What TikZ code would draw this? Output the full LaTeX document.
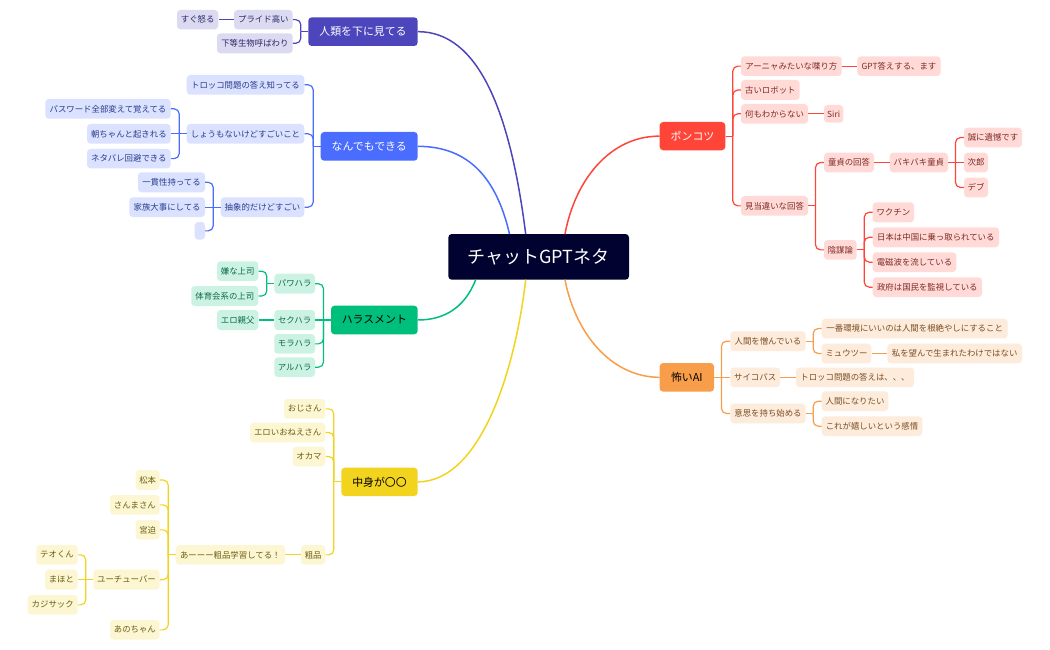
\documentclass[tikz,border=0pt]{standalone}
\usepackage{fontspec}
\setmainfont{Noto Sans CJK JP}
\definecolor{cInd}{HTML}{4C45BB}\definecolor{lInd}{HTML}{DBDAF1}\definecolor{tInd}{HTML}{2A2667}
\definecolor{cBlu}{HTML}{4A6CFF}\definecolor{lBlu}{HTML}{DBE2FF}\definecolor{tBlu}{HTML}{283B8C}
\definecolor{cRed}{HTML}{FF4438}\definecolor{lRed}{HTML}{FFDAD7}\definecolor{tRed}{HTML}{7F2A24}
\definecolor{cOra}{HTML}{F89D4A}\definecolor{lOra}{HTML}{FDEBDB}\definecolor{tOra}{HTML}{7A4E24}
\definecolor{cGrn}{HTML}{00BF7A}\definecolor{lGrn}{HTML}{CCF2E4}\definecolor{tGrn}{HTML}{0B6B48}
\definecolor{cYel}{HTML}{F2D31E}\definecolor{lYel}{HTML}{FCF6D2}\definecolor{tYel}{HTML}{6B5D10}
\definecolor{cHub}{HTML}{020230}
\tikzset{
  box/.style={inner sep=0pt,rounded corners=3.5pt,draw=none},
  leaf/.style n args={2}{box,fill=#1,text=#2,font=\fontsize{8.4}{10}\selectfont},
  mainbox/.style n args={2}{box,fill=#1,text=#2,font=\fontsize{10.9}{13}\selectfont},
  hubbox/.style={box,fill=cHub,text=white,font=\fontsize{18}{22}\selectfont},
  link/.style={draw=#1,line width=1.2pt},
  bigl/.style={draw=#1,line width=1.5pt},
}
% name, style, x0, y0, x1, y1, text
\newcommand\bx[7]{\node[#2,minimum width={(#5-#3)*1pt},minimum height={(#6-#4)*1pt}] (#1) at ({(#3+#5)/2},{(#4+#6)/2}) {#7};}
\newcommand\forkL[3]{\draw[link=#1] (#2.west) -- ++(-7.3,0); \draw[link=#1,rounded corners=5pt] (#2.west) ++(-7.3,0) |- (#3.east);}
\newcommand\forkR[3]{\draw[link=#1] (#2.east) -- ++(7.3,0); \draw[link=#1,rounded corners=5pt] (#2.east) ++(7.3,0) |- (#3.west);}
\newcommand\lineL[3]{\draw[link=#1] (#2.west) -- (#3.east);}
\newcommand\lineR[3]{\draw[link=#1] (#2.east) -- (#3.west);}
\begin{document}
\begin{tikzpicture}[x=1pt,y=-1pt]
\useasboundingbox (0,0) rectangle (1050,650);
% hub
\bx{hub}{hubbox}{448.3}{234}{629}{279.7}{チャットGPTネタ}
\coordinate (hubA) at (525.7,234);
\coordinate (hubB) at (509.5,234);
\coordinate (hubC) at (475.7,279.7);
\coordinate (hubD) at (525.7,279.7);
\coordinate (hubE) at (565,234);
\coordinate (hubF) at (565,279.7);
% indigo
\bx{a}{mainbox={cInd}{white}}{308.3}{17.3}{417.7}{46}{人類を下に見てる}
\bx{a1}{leaf={lInd}{tInd}}{234}{10}{292.7}{29.3}{プライド高い}
\bx{a11}{leaf={lInd}{tInd}}{177}{10}{218.3}{29.3}{すぐ怒る}
\bx{a2}{leaf={lInd}{tInd}}{217}{33.3}{292.7}{53.3}{下等生物呼ばわり}
\forkL{cInd}{a}{a1}\forkL{cInd}{a}{a2}\lineL{cInd}{a1}{a11}
% blue
\bx{b}{mainbox={cBlu}{white}}{320.7}{132}{417.7}{160.7}{なんでもできる}
\bx{b1}{leaf={lBlu}{tBlu}}{186.7}{75}{304.3}{94.7}{トロッコ問題の答え知ってる}
\bx{b2}{leaf={lBlu}{tBlu}}{186.7}{124}{304.3}{143.7}{しょうもないけどすごいこと}
\bx{b21}{leaf={lBlu}{tBlu}}{45.3}{99}{170.7}{118.7}{パスワード全部変えて覚えてる}
\bx{b22}{leaf={lBlu}{tBlu}}{87}{124}{170.7}{143.7}{朝ちゃんと起きれる}
\bx{b23}{leaf={lBlu}{tBlu}}{87}{149}{170.7}{168.3}{ネタバレ回避できる}
\bx{b3}{leaf={lBlu}{tBlu}}{220.7}{197.3}{304.3}{217}{抽象的だけどすごい}
\bx{b31}{leaf={lBlu}{tBlu}}{138}{172.3}{205}{192.3}{一貫性持ってる}
\bx{b32}{leaf={lBlu}{tBlu}}{129.3}{197.3}{205}{217}{家族大事にしてる}
\bx{b33}{leaf={lBlu}{tBlu}}{194.7}{222}{205}{239.7}{}
\forkL{cBlu}{b}{b1}\forkL{cBlu}{b}{b2}\forkL{cBlu}{b}{b3}
\forkL{cBlu}{b2}{b21}\lineL{cBlu}{b2}{b22}\forkL{cBlu}{b2}{b23}
\forkL{cBlu}{b3}{b31}\lineL{cBlu}{b3}{b32}\forkL{cBlu}{b3}{b33}
% green
\bx{c}{mainbox={cGrn}{black}}{331}{305.7}{417.7}{334.3}{ハラスメント}
\bx{c1}{leaf={lGrn}{tGrn}}{274.3}{273.7}{315}{293.7}{パワハラ}
\bx{c11}{leaf={lGrn}{tGrn}}{217}{261.3}{258.3}{281}{嫌な上司}
\bx{c12}{leaf={lGrn}{tGrn}}{191.3}{286}{258.3}{306}{体育会系の上司}
\bx{c2}{leaf={lGrn}{tGrn}}{274.3}{310}{315}{330}{セクハラ}
\bx{c21}{leaf={lGrn}{tGrn}}{217}{310}{258.3}{330}{エロ親父}
\bx{c3}{leaf={lGrn}{tGrn}}{274.3}{334}{315}{353.7}{モラハラ}
\bx{c4}{leaf={lGrn}{tGrn}}{274.3}{357.3}{315}{377}{アルハラ}
\forkL{cGrn}{c}{c1}\lineL{cGrn}{c}{c2}\forkL{cGrn}{c}{c3}\forkL{cGrn}{c}{c4}
\forkL{cGrn}{c1}{c11}\forkL{cGrn}{c1}{c12}\lineL{cGrn}{c2}{c21}
% yellow
\bx{d}{mainbox={cYel}{black}}{341.3}{467.7}{417.7}{496}{中身が〇〇}
\bx{d1}{leaf={lYel}{tYel}}{284}{399}{325.3}{418.7}{おじさん}
\bx{d2}{leaf={lYel}{tYel}}{250}{422.7}{325.3}{442.3}{エロいおねえさん}
\bx{d3}{leaf={lYel}{tYel}}{292.7}{446.7}{325.3}{466.3}{オカマ}
\bx{d4}{leaf={lYel}{tYel}}{301}{545}{325.3}{564.7}{粗品}
\bx{d41}{leaf={lYel}{tYel}}{175.7}{545}{285}{564.7}{あーーー粗品学習してる！}
\bx{e1}{leaf={lYel}{tYel}}{135.7}{470}{159.7}{490}{松本}
\bx{e2}{leaf={lYel}{tYel}}{110}{495}{159.7}{514.7}{さんまさん}
\bx{e3}{leaf={lYel}{tYel}}{135.7}{520}{159.7}{539.7}{宮迫}
\bx{e4}{leaf={lYel}{tYel}}{93.3}{569.7}{159.7}{589.7}{ユーチューバー}
\bx{e5}{leaf={lYel}{tYel}}{110}{620}{159.7}{639.7}{あのちゃん}
\bx{f1}{leaf={lYel}{tYel}}{36.3}{545}{77.7}{564.7}{テオくん}
\bx{f2}{leaf={lYel}{tYel}}{45}{569.7}{77.7}{589.7}{まほと}
\bx{f3}{leaf={lYel}{tYel}}{27.7}{595}{77.7}{614.7}{カジサック}
\forkL{cYel}{d}{d1}\forkL{cYel}{d}{d2}\forkL{cYel}{d}{d3}\forkL{cYel}{d}{d4}
\lineL{cYel}{d4}{d41}
\forkL{cYel}{d41}{e1}\forkL{cYel}{d41}{e2}\forkL{cYel}{d41}{e3}\forkL{cYel}{d41}{e4}\forkL{cYel}{d41}{e5}
\forkL{cYel}{e4}{f1}\lineL{cYel}{e4}{f2}\forkL{cYel}{e4}{f3}
% red
\bx{p}{mainbox={cRed}{white}}{659.7}{122}{725.3}{150.3}{ポンコツ}
\bx{p1}{leaf={lRed}{tRed}}{741}{56.3}{841.7}{76}{アーニャみたいな喋り方}
\bx{p11}{leaf={lRed}{tRed}}{857.3}{56.3}{940.7}{76}{GPT答えする、ます}
\bx{p2}{leaf={lRed}{tRed}}{741}{80}{799.7}{100}{古いロボット}
\bx{p3}{leaf={lRed}{tRed}}{741}{104}{808}{123.7}{何もわからない}
\bx{p31}{leaf={lRed}{tRed}}{824}{105}{843.3}{122.7}{Siri}
\bx{p4}{leaf={lRed}{tRed}}{741}{196}{808}{215.7}{見当違いな回答}
\bx{q1}{leaf={lRed}{tRed}}{824}{152.7}{874}{172.3}{童貞の回答}
\bx{q11}{leaf={lRed}{tRed}}{889.7}{152.7}{948}{172.3}{バキバキ童貞}
\bx{q111}{leaf={lRed}{tRed}}{964}{127.7}{1022}{147.3}{誠に遺憾です}
\bx{q112}{leaf={lRed}{tRed}}{964}{152.7}{988}{172.3}{次郎}
\bx{q113}{leaf={lRed}{tRed}}{964}{177.7}{988}{197.3}{デブ}
\bx{q2}{leaf={lRed}{tRed}}{824}{240}{856.7}{259.7}{陰謀論}
\bx{q21}{leaf={lRed}{tRed}}{872.7}{202.3}{914}{222.3}{ワクチン}
\bx{q22}{leaf={lRed}{tRed}}{872.7}{227.3}{999}{247.3}{日本は中国に乗っ取られている}
\bx{q23}{leaf={lRed}{tRed}}{872.7}{252.3}{956.3}{272}{電磁波を流している}
\bx{q24}{leaf={lRed}{tRed}}{872.7}{277.3}{982}{297}{政府は国民を監視している}
\forkR{cRed}{p}{p1}\forkR{cRed}{p}{p2}\forkR{cRed}{p}{p3}\forkR{cRed}{p}{p4}
\lineR{cRed}{p1}{p11}\lineR{cRed}{p3}{p31}
\forkR{cRed}{p4}{q1}\forkR{cRed}{p4}{q2}\lineR{cRed}{q1}{q11}
\forkR{cRed}{q11}{q111}\lineR{cRed}{q11}{q112}\forkR{cRed}{q11}{q113}
\forkR{cRed}{q2}{q21}\forkR{cRed}{q2}{q22}\forkR{cRed}{q2}{q23}\forkR{cRed}{q2}{q24}
% orange
\bx{r}{mainbox={cOra}{black}}{659.7}{363}{714}{391.7}{怖いAI}
\bx{r1}{leaf={lOra}{tOra}}{730.3}{331.3}{805.7}{351}{人間を憎んでいる}
\bx{r11}{leaf={lOra}{tOra}}{821.7}{318.7}{1007.7}{338.3}{一番環境にいいのは人間を根絶やしにすること}
\bx{r12}{leaf={lOra}{tOra}}{821.7}{343.7}{871.3}{363.3}{ミュウツー}
\bx{r121}{leaf={lOra}{tOra}}{887.3}{343.7}{1022}{363.3}{私を望んで生まれたわけではない}
\bx{r2}{leaf={lOra}{tOra}}{730.3}{367.5}{780}{387.2}{サイコパス}
\bx{r21}{leaf={lOra}{tOra}}{796}{367.5}{914}{387.2}{トロッコ問題の答えは、、、}
\bx{r3}{leaf={lOra}{tOra}}{730.3}{403.7}{805.7}{423.3}{意思を持ち始める}
\bx{r31}{leaf={lOra}{tOra}}{821.7}{391.3}{888.3}{411}{人間になりたい}
\bx{r32}{leaf={lOra}{tOra}}{821.7}{416.3}{922.3}{436}{これが嬉しいという感情}
\forkR{cOra}{r}{r1}\lineR{cOra}{r}{r2}\forkR{cOra}{r}{r3}
\forkR{cOra}{r1}{r11}\forkR{cOra}{r1}{r12}\lineR{cOra}{r12}{r121}\lineR{cOra}{r2}{r21}
\forkR{cOra}{r3}{r31}\forkR{cOra}{r3}{r32}
% main curves
\draw[bigl=cInd] (a.east) .. controls (478,31.7) and (510,110) .. (hubA);
\draw[bigl=cBlu] (b.east) .. controls (470,146.3) and (497,180) .. (hubB);
\draw[bigl=cGrn] (c.east) .. controls (445,320) and (465,307) .. (hubC);
\draw[bigl=cYel] (d.east) .. controls (480,481.8) and (515,372) .. (hubD);
\draw[bigl=cRed] (p.west) .. controls (610,136) and (575,180) .. (hubE);
\draw[bigl=cOra] (r.west) .. controls (610,377) and (575,332) .. (hubF);
\end{tikzpicture}
\end{document}
